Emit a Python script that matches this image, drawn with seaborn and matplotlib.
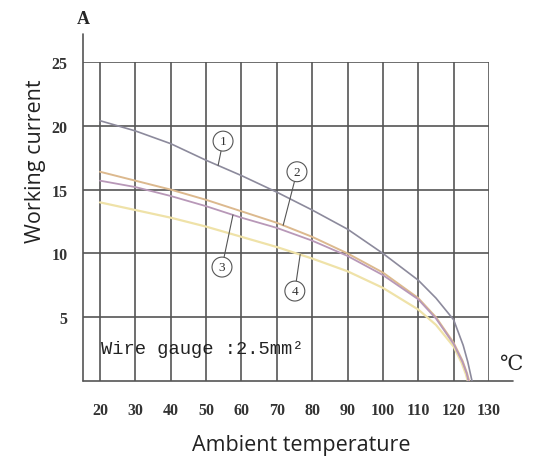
import seaborn as sns
import matplotlib.pyplot as plt
import pandas as pd
import numpy as np

# Curves (temperature in degC, current in A)
temp_1 = [20, 30, 40, 50, 60, 70, 80, 90, 100, 110, 115, 120, 122.7, 124, 124.8, 125.2]
curr_1 = [20.4, 19.6, 18.6, 17.3, 16.1, 14.8, 13.4, 11.9, 10.0, 7.9, 6.5, 4.8, 2.8, 1.5, 0.5, 0.0]

temp_2 = [20, 30, 40, 50, 60, 70, 80, 90, 100, 110, 115, 120, 122.5, 123.8, 124.4]
curr_2 = [16.4, 15.7, 15.0, 14.2, 13.3, 12.4, 11.3, 10.0, 8.5, 6.5, 5.0, 3.0, 1.6, 0.6, 0.0]

temp_3 = [20, 30, 40, 50, 60, 70, 80, 90, 100, 110, 115, 120, 122.5, 123.7, 124.2]
curr_3 = [15.7, 15.2, 14.5, 13.7, 12.8, 12.0, 11.0, 9.8, 8.3, 6.4, 4.9, 2.9, 1.5, 0.6, 0.0]

temp_4 = [20, 30, 40, 50, 60, 70, 80, 90, 100, 110, 115, 120, 122.3, 123.5, 124]
curr_4 = [14.0, 13.4, 12.8, 12.1, 11.3, 10.5, 9.6, 8.6, 7.3, 5.6, 4.4, 2.7, 1.4, 0.5, 0.0]

curve_names = ['1', '2', '3', '4']
curve_colors = {'1': '#8c8a9c', '2': '#dcb98e', '3': '#b898b8', '4': '#efe2a8'}
curve_widths = {'1': 1.2, '2': 1.4, '3': 1.3, '4': 1.6}

x_ticks = [20, 30, 40, 50, 60, 70, 80, 90, 100, 110, 120, 130]
y_ticks = [5, 10, 15, 20, 25]

rows = []
for name, xs, ys in zip(curve_names, [temp_1, temp_2, temp_3, temp_4],
                        [curr_1, curr_2, curr_3, curr_4]):
    for x, y in zip(xs, ys):
        rows.append({'temp': x, 'current': y, 'curve': name})
df = pd.DataFrame(rows)

sns.set_style('white')
fig = plt.figure(figsize=(5.35, 4.64), dpi=100)
ax = fig.add_axes([0.1551, 0.1767, 0.914 - 0.1551, 0.8642 - 0.1767])

grid_c = '#555555'
for xv in x_ticks:
    ax.axvline(xv, color=grid_c, lw=1.2, zorder=1)
for yv in y_ticks:
    ax.axhline(yv, color=grid_c, lw=1.2, zorder=1)

# draw pale curves first so curve 1 sits on top
for name in ['4', '2', '3', '1']:
    sub = df[df['curve'] == name]
    sns.lineplot(data=sub, x='temp', y='current', color=curve_colors[name],
                 lw=curve_widths[name], sort=False, ax=ax, zorder=3,
                 legend=False, estimator=None)

x0 = 15.19
ax.set_xlim(x0, 130)
ax.set_ylim(0, 25)
for s in ax.spines.values():
    s.set_visible(False)

# axis lines with extensions
ax.plot([x0, x0], [0, 27.2], color=grid_c, lw=1.2, clip_on=False, zorder=2)
ax.plot([x0, 136.8], [0, 0], color=grid_c, lw=1.2, clip_on=False, zorder=2)

tick_font = 'Liberation Serif'
ax.set_xticks(x_ticks)
ax.set_yticks(y_ticks)
ax.set_xticklabels([str(v) for v in x_ticks], family=tick_font,
                   fontsize=11.5, fontweight='bold', color='#333333')
ax.set_yticklabels([str(v) for v in y_ticks], family=tick_font,
                   fontsize=11.5, fontweight='bold', color='#333333')
ax.tick_params(axis='x', length=2, pad=13, color=grid_c)
ax.tick_params(axis='y', length=2, pad=9, color=grid_c)

ax.set_xlabel('Ambient temperature', fontsize=15.5, family='Open Sans',
              color='#222222')
ax.set_ylabel('Working current', fontsize=15.5, family='Open Sans',
              color='#222222')
ax.xaxis.set_label_coords(0.537, -0.165)
ax.yaxis.set_label_coords(-0.09, 0.693)

ax.text(x0, 28.4, 'A', ha='center', va='center', fontsize=13,
        family='Liberation Serif', fontweight='bold', clip_on=False)
ax.text(136.0, 1.35, '\u2103', ha='center', va='center', fontsize=15,
        family='DejaVu Serif', clip_on=False)

ax.text(20.3, 2.55, 'Wire gauge :2.5mm\u00b2', ha='left', va='center',
        fontsize=13.5, family='Liberation Mono', color='#222222')

# circled curve labels with leader lines
labels = [('1', temp_1, curr_1, 53.4, (54.8, 18.8)),
          ('2', temp_2, curr_2, 71.8, (75.7, 16.4)),
          ('3', temp_3, curr_3, 57.6, (54.5, 8.93)),
          ('4', temp_4, curr_4, 76.6, (75.1, 7.05))]
for name, xs, ys, xp, pos in labels:
    yp = np.interp(xp, xs, ys)
    ax.annotate(name, xy=(xp, yp), xytext=pos, ha='center', va='center',
                fontsize=9.5, family='Liberation Serif', color='#333333',
                bbox=dict(boxstyle='circle,pad=0.3', fc='white',
                          ec='#555555', lw=0.8),
                arrowprops=dict(arrowstyle='-', color='#555555', lw=0.8,
                                shrinkA=0, shrinkB=0),
                zorder=5)

plt.savefig('out.png', dpi=100)
